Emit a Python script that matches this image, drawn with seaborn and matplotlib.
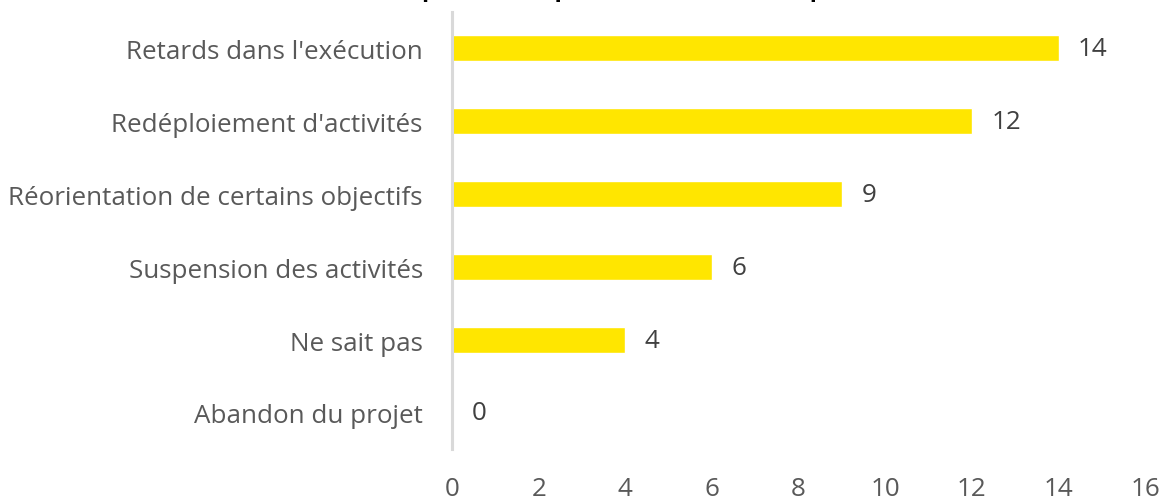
import matplotlib
matplotlib.use("Agg")
import matplotlib.pyplot as plt
import seaborn as sns
import pandas as pd

categories = [
    "Retards dans l'exécution",
    "Redéploiement d'activités",
    "Réorientation de certains objectifs",
    "Suspension des activités",
    "Ne sait pas",
    "Abandon du projet",
]
values = [14, 12, 9, 6, 4, 0]
x_ticks = [0, 2, 4, 6, 8, 10, 12, 14, 16]

df = pd.DataFrame({"categorie": categories, "reponses": values})

sns.set_theme(style="white")
plt.rcParams["font.family"] = ["Open Sans", "DejaVu Sans"]

text_color = "#595959"
bar_color = "#FFE600"
fs = 18.7

fig = plt.figure(figsize=(11.71, 5.02), dpi=100)
ax = fig.add_axes([0.386, 0.1026, 0.592, 0.8724])

sns.barplot(data=df, x="reponses", y="categorie", orient="h",
            color=bar_color, saturation=1, width=0.36, ax=ax)

ax.set_xlim(0, 16)
ax.set_xticks(x_ticks)
ax.set_xticklabels([str(t) for t in x_ticks], fontsize=fs, color=text_color)
ax.tick_params(axis="y", labelsize=fs, labelcolor=text_color, length=0, pad=21)
ax.tick_params(axis="x", length=0, pad=19)
ax.set_xlabel("")
ax.set_ylabel("")

for side in ["top", "right", "bottom"]:
    ax.spines[side].set_visible(False)
ax.spines["left"].set_color("#d9d9d9")
ax.spines["left"].set_linewidth(2.2)

for cont in ax.containers:
    ax.bar_label(cont, labels=[str(v) for v in values], padding=14,
                 fontsize=fs, color="#404040")

fig.text(0.5, 1 + 4 / 502,
         "(nb de répondants, question à choix multiple)",
         ha="center", va="baseline", fontsize=17, fontweight="bold",
         color="black")

fig.savefig("out.png", dpi=100)
